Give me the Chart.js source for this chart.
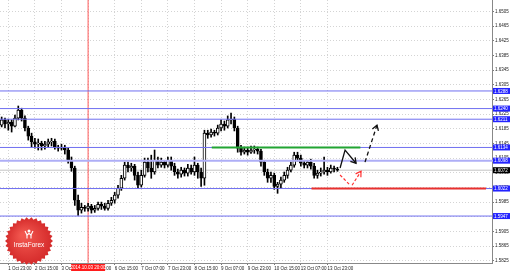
<!DOCTYPE html>
<html><head><meta charset="utf-8">
<script src="https://cdn.jsdelivr.net/npm/chart.js@4.4.0/dist/chart.umd.min.js"></script>
<style>html,body{margin:0;padding:0;background:#fff;overflow:hidden}canvas{display:block}</style>
</head><body><canvas id="c" width="510" height="271"></canvas>
<script>
// ---- data ----
const startTime = '2014-10-01T19:00:00Z';   // first 2-hour bar
const slotCount = 148;                       // bars + empty space on the right
const tickLabels = ['1 Oct 23:00','2 Oct 15:00','3 Oct 07:00','3 Oct 23:00','6 Oct 15:00','7 Oct 07:00','7 Oct 23:00','8 Oct 15:00','9 Oct 07:00','9 Oct 23:00','10 Oct 15:00','13 Oct 07:00','13 Oct 23:00'];
const priceTicks = [1.5825,1.5865,1.5905,1.5945,1.5985,1.6025,1.6065,1.6105,1.6145,1.6185,1.6225,1.6265,1.6305,1.6345,1.6385,1.6425,1.6465,1.6505];
const opens = [1.6195,1.6209,1.6198,1.6203,1.6192,1.6214,1.6236,1.6214,1.6187,1.6165,
1.6149,1.6143,1.6146,1.6138,1.6143,1.6149,1.6151,1.6135,1.6132,1.6135,
1.6127,1.6099,1.6078,1.5990,1.5963,1.5971,1.5968,1.5974,1.5963,1.5968,
1.5979,1.5974,1.5968,1.5982,1.5990,1.6004,1.6023,1.6050,1.6086,1.6078,
1.6083,1.6058,1.6031,1.6058,1.6094,1.6078,1.6067,1.6099,1.6086,1.6094,
1.6086,1.6099,1.6083,1.6067,1.6061,1.6072,1.6064,1.6078,1.6067,1.6086,
1.6067,1.6050,1.6173,1.6168,1.6176,1.6173,1.6187,1.6198,1.6192,1.6209,
1.6211,1.6187,1.6132,1.6121,1.6127,1.6121,1.6127,1.6129,1.6124,1.6094,
1.6067,1.6050,1.6058,1.6028,1.6034,1.6045,1.6058,1.6072,1.6086,1.6113,
1.6105,1.6091,1.6086,1.6094,1.6083,1.6058,1.6064,1.6067,1.6072,1.6067,
1.6078,1.6075];
const closes = [1.6209,1.6198,1.6203,1.6192,1.6214,1.6236,1.6214,1.6187,1.6165,1.6149,
1.6143,1.6146,1.6138,1.6143,1.6149,1.6151,1.6135,1.6132,1.6135,1.6127,
1.6099,1.6078,1.5990,1.5963,1.5971,1.5968,1.5974,1.5963,1.5968,1.5979,
1.5974,1.5968,1.5982,1.5990,1.6004,1.6023,1.6050,1.6086,1.6078,1.6083,
1.6058,1.6031,1.6058,1.6094,1.6078,1.6067,1.6099,1.6086,1.6094,1.6086,
1.6099,1.6083,1.6067,1.6061,1.6072,1.6064,1.6078,1.6067,1.6086,1.6067,
1.6050,1.6173,1.6168,1.6176,1.6173,1.6187,1.6198,1.6192,1.6209,1.6211,
1.6187,1.6132,1.6121,1.6127,1.6121,1.6127,1.6129,1.6124,1.6094,1.6067,
1.6050,1.6058,1.6028,1.6034,1.6045,1.6058,1.6072,1.6086,1.6113,1.6105,
1.6091,1.6086,1.6094,1.6083,1.6058,1.6064,1.6067,1.6072,1.6067,1.6078,
1.6075,1.6072];
const highs = [1.6217,1.6214,1.6211,1.6209,1.6222,1.6247,1.6241,1.6220,1.6192,1.6173,
1.6159,1.6157,1.6151,1.6151,1.6157,1.6159,1.6157,1.6140,1.6143,1.6140,
1.6132,1.6108,1.6083,1.6004,1.5982,1.5976,1.5982,1.5979,1.5976,1.5985,
1.5985,1.5982,1.5990,1.5998,1.6012,1.6031,1.6058,1.6094,1.6094,1.6091,
1.6088,1.6067,1.6072,1.6105,1.6105,1.6113,1.6127,1.6108,1.6105,1.6099,
1.6108,1.6108,1.6091,1.6075,1.6080,1.6078,1.6088,1.6086,1.6108,1.6091,
1.6078,1.6181,1.6181,1.6184,1.6181,1.6195,1.6209,1.6206,1.6220,1.6228,
1.6217,1.6192,1.6140,1.6135,1.6135,1.6138,1.6138,1.6135,1.6129,1.6099,
1.6075,1.6067,1.6064,1.6039,1.6053,1.6067,1.6080,1.6094,1.6121,1.6121,
1.6113,1.6099,1.6099,1.6102,1.6091,1.6072,1.6078,1.6108,1.6080,1.6086,
1.6083,1.6080];
const lows = [1.6190,1.6187,1.6181,1.6176,1.6190,1.6209,1.6206,1.6179,1.6154,1.6135,
1.6132,1.6127,1.6127,1.6129,1.6135,1.6138,1.6129,1.6124,1.6127,1.6116,
1.6091,1.6069,1.5976,1.5949,1.5955,1.5960,1.5960,1.5955,1.5957,1.5963,
1.5965,1.5963,1.5963,1.5976,1.5982,1.5996,1.6017,1.6045,1.6067,1.6069,
1.6045,1.6023,1.6026,1.6053,1.6067,1.6050,1.6061,1.6078,1.6080,1.6078,
1.6080,1.6072,1.6058,1.6050,1.6053,1.6056,1.6056,1.6061,1.6058,1.6050,
1.6028,1.6031,1.6159,1.6162,1.6165,1.6168,1.6179,1.6181,1.6187,1.6198,
1.6179,1.6121,1.6113,1.6116,1.6113,1.6118,1.6118,1.6116,1.6083,1.6058,
1.6039,1.6039,1.6020,1.6009,1.6023,1.6039,1.6050,1.6067,1.6080,1.6097,
1.6083,1.6078,1.6078,1.6075,1.6050,1.6050,1.6056,1.6061,1.6058,1.6064,
1.6067,1.6069];
const blueLevels = [1.6288,1.6240,1.6211,1.6134,1.5947,1.6022];
const lightLevel = 1.6098;
const greenLevel = {price:1.6134, from:63.2, to:107.9};
const redLevel = {price:1.6022, from:93.2, to:145.7};
const separatorIndex = 26;
const separatorLabel = '2014.10.03 20:00';
const blackPath = [[101.8,1.6078],[103.3,1.6127],[106.6,1.6091]];
const blackDashPath = [[109.3,1.6094],[112.9,1.6195]];
const redDash1 = [[101.8,1.6059],[104.5,1.6034]];
const redDash2 = [[105.4,1.6031],[108.1,1.6069]];
const logoText = 'InstaForex';

// ---- build ----
const months=['Jan','Feb','Mar','Apr','May','Jun','Jul','Aug','Sep','Oct','Nov','Dec'];
const categories=[]; let t=Date.parse(startTime);
for(let i=0;i<slotCount;i++){
  const d=new Date(t);
  categories.push(d.getUTCDate()+' '+months[d.getUTCMonth()]+' '+String(d.getUTCHours()).padStart(2,'0')+':00');
  t+=7200000; if(new Date(t).getUTCDay()===6) t+=48*3600000;
}
const shown=new Set(tickLabels);
const FONT='"Liberation Sans", Arial, sans-serif';

function drawPath(ctx,x,y,pts,color,width,dash,head){
  const P=pts.map(p=>[x.getPixelForValue(p[0]),y.getPixelForValue(p[1])]);
  ctx.save(); ctx.strokeStyle=color; ctx.lineWidth=width; ctx.setLineDash(dash);
  ctx.beginPath(); P.forEach((p,i)=>i?ctx.lineTo(p[0],p[1]):ctx.moveTo(p[0],p[1])); ctx.stroke();
  if(head){
    const [x1,y1]=P[P.length-2],[x2,y2]=P[P.length-1]; const a=Math.atan2(y2-y1,x2-x1);
    ctx.setLineDash([]); ctx.beginPath();
    ctx.moveTo(x2-6*Math.cos(a-0.55),y2-6*Math.sin(a-0.55)); ctx.lineTo(x2,y2);
    ctx.lineTo(x2-6*Math.cos(a+0.55),y2-6*Math.sin(a+0.55)); ctx.stroke();
  }
  ctx.restore();
}
function hLine(ctx,x,y,price,from,to,color,w){
  const py=y.getPixelForValue(price);
  ctx.save(); ctx.strokeStyle=color; ctx.lineWidth=w; ctx.beginPath();
  ctx.moveTo(from,py); ctx.lineTo(to,py); ctx.stroke(); ctx.restore();
}
function priceLabel(ctx,a,y,price,bg){
  const py=y.getPixelForValue(price);
  ctx.save(); ctx.fillStyle=bg; ctx.fillRect(a.right+1,py-3,510-a.right-1,6);
  ctx.fillStyle='#fff'; ctx.font='4.5px '+FONT; ctx.textBaseline='middle'; ctx.textAlign='left';
  ctx.fillText(price.toFixed(4),a.right+2,py+0.3); ctx.restore();
}
function drawLogo(ctx,cx,cy,r){
  ctx.save();
  const g=ctx.createRadialGradient(cx-6,cy-6,2,cx,cy,r);
  g.addColorStop(0,'#f2574f'); g.addColorStop(1,'#d42a2a');
  ctx.fillStyle=g; ctx.beginPath(); const n=30;
  for(let k=0;k<2*n;k++){const rr=k%2?r-2.4:r; const an=k*Math.PI/n; ctx.lineTo(cx+rr*Math.cos(an),cy+rr*Math.sin(an));}
  ctx.closePath(); ctx.fill();
  ctx.strokeStyle='#fff'; ctx.fillStyle='#fff'; ctx.lineWidth=1.1;
  ctx.beginPath(); ctx.arc(cx,cy-10,1.5,0,2*Math.PI); ctx.fill();
  ctx.beginPath(); ctx.moveTo(cx-4,cy-10); ctx.lineTo(cx-2,cy-6); ctx.lineTo(cx,cy-7.5); ctx.lineTo(cx+2,cy-6); ctx.lineTo(cx+4,cy-10); ctx.stroke();
  ctx.beginPath(); ctx.moveTo(cx-2,cy-6); ctx.lineTo(cx-2,cy-2.5); ctx.moveTo(cx+2,cy-6); ctx.lineTo(cx+2,cy-2.5); ctx.stroke();
  ctx.font='6.5px '+FONT; ctx.textAlign='center'; ctx.textBaseline='middle';
  ctx.fillText(logoText,cx,cy+4);
  ctx.restore();
}

const overlay={
  id:'overlay',
  beforeDatasetsDraw(chart){
    const {ctx,chartArea:a,scales:{x,y}}=chart;
    hLine(ctx,x,y,closes[closes.length-1],a.left,a.right,'#c4c4c4',1);
    const sx=x.getPixelForValue(separatorIndex);
    ctx.save(); ctx.strokeStyle='#ff5a5a'; ctx.lineWidth=1; ctx.beginPath(); ctx.moveTo(sx,a.top); ctx.lineTo(sx,a.bottom); ctx.stroke(); ctx.restore();
  },
  afterDatasetsDraw(chart){
    const {ctx,chartArea:a,scales:{x,y}}=chart;
    blueLevels.forEach(p=>hLine(ctx,x,y,p,a.left,a.right+2,'#6f6ff0',1));
    hLine(ctx,x,y,lightLevel,a.left,a.right+2,'#aeaef6',2);
    hLine(ctx,x,y,greenLevel.price,x.getPixelForValue(greenLevel.from),x.getPixelForValue(greenLevel.to),'#22a532',2);
    hLine(ctx,x,y,redLevel.price,x.getPixelForValue(redLevel.from),x.getPixelForValue(redLevel.to),'#e8302e',2);
    drawPath(ctx,x,y,blackPath,'#111',1.3,[],true);
    drawPath(ctx,x,y,blackDashPath,'#111',1.3,[4,3],true);
    drawPath(ctx,x,y,redDash1,'#ff3030',1.2,[3,2],false);
    drawPath(ctx,x,y,redDash2,'#ff3030',1.2,[3,2],true);
  },
  afterDraw(chart){
    const {ctx,chartArea:a,scales:{x,y}}=chart;
    blueLevels.concat([lightLevel]).forEach(p=>priceLabel(ctx,a,y,p,'#2323ff'));
    priceLabel(ctx,a,y,closes[closes.length-1],'#000');
    const sx=x.getPixelForValue(separatorIndex);
    ctx.save(); ctx.fillStyle='#ff1c1c'; ctx.fillRect(sx-17,a.bottom+1,34,7);
    ctx.fillStyle='#fff'; ctx.font='4.5px '+FONT; ctx.textAlign='center'; ctx.textBaseline='middle';
    ctx.fillText(separatorLabel,sx,a.bottom+4.6); ctx.restore();
    drawLogo(ctx,29,241,24);
  }
};

new Chart(document.getElementById('c'),{
  type:'bar',
  data:{labels:categories,datasets:[
    {data:lows.map((l,i)=>[l,highs[i]]),backgroundColor:'#000',barThickness:1,grouped:false,order:2},
    {data:opens.map((o,i)=>[o,closes[i]]),backgroundColor:opens.map((o,i)=>closes[i]>=o?'#fff':'#000'),borderColor:'#000',borderWidth:1,borderSkipped:false,barThickness:3,grouped:false,order:1}
  ]},
  options:{
    responsive:false,animation:false,devicePixelRatio:1,events:[],
    layout:{padding:0},
    plugins:{legend:{display:false},tooltip:{enabled:false}},
    scales:{
      x:{type:'category',offset:true,
        grid:{offset:false,color:c=>shown.has(categories[c.index])?'#d4d4d4':'rgba(0,0,0,0)',tickColor:c=>shown.has(categories[c.index])?'#777':'rgba(0,0,0,0)',tickLength:2,lineWidth:1},
        border:{display:true,color:'#888',dash:[1,2]},
        ticks:{autoSkip:false,maxRotation:0,minRotation:0,align:'start',padding:1,color:'#222',font:{size:4.5,family:FONT},
          callback:(v,i)=>shown.has(categories[i])?categories[i]:''},
        afterFit:s=>{s.height=8;s.paddingLeft=0;s.paddingRight=0;}
      },
      y:{position:'right',min:1.5819,max:1.6536,
        afterBuildTicks:s=>{s.ticks=priceTicks.map(v=>({value:v}));},
        grid:{color:'#d4d4d4',tickColor:'#777',tickLength:2},
        border:{display:true,color:'#888',dash:[1,2]},
        ticks:{padding:1,color:'#222',font:{size:4.5,family:FONT},callback:v=>Number(v).toFixed(4)},
        afterFit:s=>{s.width=18;s.paddingTop=0;s.paddingBottom=0;}
      }
    }
  },
  plugins:[overlay]
});
</script></body></html>
